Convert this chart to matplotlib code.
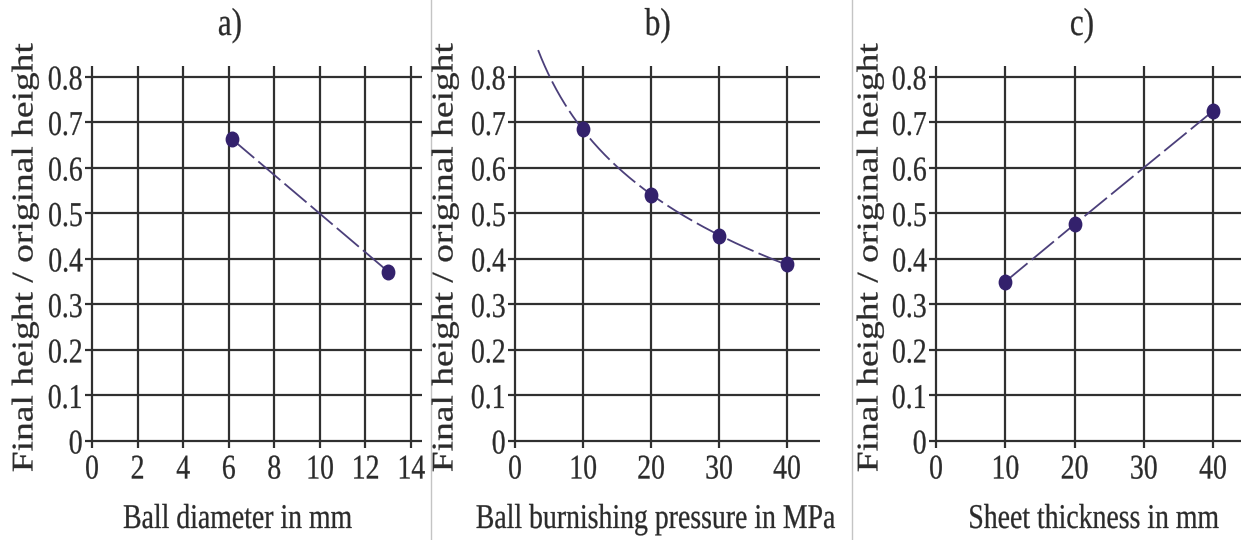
import numpy as np
import matplotlib
matplotlib.use("Agg")
import matplotlib.pyplot as plt
from matplotlib.patheffects import AbstractPathEffect
from matplotlib.transforms import Affine2D
from matplotlib.path import Path
from matplotlib.lines import Line2D

# ---------------- data ----------------
diam_mm = [6.15, 13.0]
diam_ratio = [0.663, 0.372]

pressure_mpa = [10, 20, 30, 40]
pressure_ratio = [0.685, 0.54, 0.45, 0.39]

thickness_mm = [10, 20, 40]
thickness_ratio = [0.35, 0.476, 0.725]

ratio_ticks = [0, 0.1, 0.2, 0.3, 0.4, 0.5, 0.6, 0.7, 0.8]
ratio_labels = ["0", "0.1", "0.2", "0.3", "0.4", "0.5", "0.6", "0.7", "0.8"]
diam_ticks = [0, 2, 4, 6, 8, 10, 12, 14]
pressure_ticks = [0, 10, 20, 30, 40]
thickness_ticks = [0, 10, 20, 30, 40]

panel_titles = ["a)", "b)", "c)"]
x_titles = ["Ball diameter in mm", "Ball burnishing pressure in MPa",
            "Sheet thickness in mm"]
y_title = "Final height / original height"

# ---------------- style ----------------
W, H = 1241, 540
FONT = "Liberation Serif"
TEXT_C = "#2b2b2b"
GRID_C = "#303030"
LINE_C = "#4b3f7a"
MARK_C = "#33216c"
SQUEEZE = 0.8
STROKE = 0.2


class Squeeze(AbstractPathEffect):
    """Draw text narrower in screen x about a pivot, with a light outline."""

    def __init__(self, sx=SQUEEZE, pivot="center", stroke=STROKE):
        super().__init__()
        self.sx = sx
        self.pivot = pivot
        self.stroke = stroke

    def draw_path(self, renderer, gc, tpath, affine, rgbFace=None):
        ext = tpath.get_extents(affine)
        if self.pivot == "right":
            px = ext.x1
        elif self.pivot == "left":
            px = ext.x0
        else:
            px = 0.5 * (ext.x0 + ext.x1)
        narrow = Affine2D().translate(-px, 0).scale(self.sx, 1).translate(px, 0)
        gc0 = renderer.new_gc()
        gc0.copy_properties(gc)
        if rgbFace is not None and self.stroke > 0:
            gc0.set_foreground(rgbFace)
            gc0.set_linewidth(self.stroke)
        renderer.draw_path(gc0, tpath, affine + narrow, rgbFace)
        gc0.restore()


fig = plt.figure(figsize=(W / 100, H / 100), dpi=100)
fig.patch.set_facecolor("white")


def fig_text(x, y, s, size, **kw):
    pivot = kw.pop("pivot", "center")
    t = fig.text(x / W, 1 - y / H, s, fontsize=size, family=FONT,
                 color=TEXT_C, **kw)
    t.set_path_effects([Squeeze(pivot=pivot)])
    return t


def make_axes(box, xlim, ylim, xticks):
    left, top, right, bottom = box
    ax = fig.add_axes([left / W, 1 - bottom / H, (right - left) / W,
                       (bottom - top) / H])
    ax.set_xlim(*xlim)
    ax.set_ylim(*ylim)
    ax.set_xticks(xticks, [str(v) for v in xticks])
    ax.set_yticks(ratio_ticks, ratio_labels)
    for sp in ax.spines.values():
        sp.set_visible(False)
    ax.tick_params(length=0, labelsize=25, labelcolor=TEXT_C)
    ax.tick_params(axis="x", pad=4)
    ax.tick_params(axis="y", pad=1.5)
    ax.grid(True, color=GRID_C, linewidth=1.6)
    ax.set_axisbelow(True)
    ax.patch.set_alpha(0)
    for lbl in ax.get_xticklabels():
        lbl.set_family(FONT)
        lbl.set_path_effects([Squeeze(pivot="center")])
    for lbl in ax.get_yticklabels():
        lbl.set_family(FONT)
        lbl.set_path_effects([Squeeze(pivot="right")])
    return ax


# elliptical dot marker
ell = Path.unit_circle().transformed(Affine2D().scale(0.85, 1.0))
mark_kw = dict(marker=ell, ms=10.5, mfc=MARK_C, mec=MARK_C, linestyle="none",
               zorder=4)
line_kw = dict(color=LINE_C, linewidth=1.3, dashes=(16, 3), zorder=3)

ylim = (-0.0154, 0.824)

# a) ball diameter
ax_a = make_axes((85, 66, 422, 448), (-0.307, 14.48), ylim, diam_ticks)
ax_a.plot(diam_mm, diam_ratio, **line_kw)
ax_a.plot(diam_mm, diam_ratio, **mark_kw)

# b) burnishing pressure, with logarithmic trend curve
ax_b = make_axes((508, 66, 820, 448), (-1.03, 44.85), ylim, pressure_ticks)
shift = 3.0
coef = np.polyfit(np.log(np.array(pressure_mpa) + shift), pressure_ratio, 1)
p_fine = np.linspace(3.4, 40, 300)
ax_b.plot(p_fine, np.polyval(coef, np.log(p_fine + shift)), clip_on=False,
          **line_kw)
ax_b.plot(pressure_mpa, pressure_ratio, **mark_kw)

# c) sheet thickness
ax_c = make_axes((929, 66, 1241, 448), (-1.01, 44.04), ylim, thickness_ticks)
ax_c.plot(thickness_mm, thickness_ratio, **line_kw)
ax_c.plot(thickness_mm, thickness_ratio, **mark_kw)

# panel titles, axis titles
for x, s in zip([230, 658, 1082], panel_titles):
    fig_text(x, 35, s, 28, ha="center", va="baseline")
fig_text(238, 528, x_titles[0], 25, ha="center", va="baseline")
fig_text(656, 528, x_titles[1], 25, ha="center", va="baseline")
fig_text(1220, 528, x_titles[2], 25, ha="right", va="baseline", pivot="right")
for x in [25, 445, 870]:
    fig_text(x, 258, y_title, 27, ha="center", va="center", rotation=90)

# thin separators between the panels
for x in [431, 852]:
    fig.add_artist(Line2D([x / W, x / W], [0, 1], transform=fig.transFigure,
                          color="#c4c4c4", linewidth=1.0))

fig.savefig("out.png", dpi=100, facecolor="white")
